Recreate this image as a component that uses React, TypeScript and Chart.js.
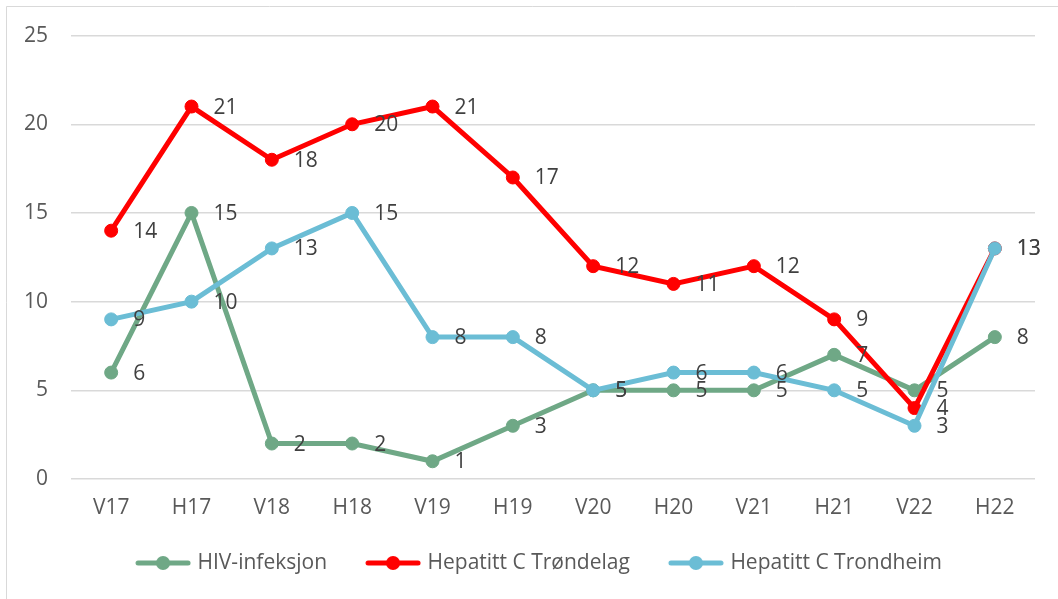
import React, { useEffect, useRef } from "react";
import { Chart, registerables } from "chart.js";

Chart.register(...registerables);

const categories = ["V17", "H17", "V18", "H18", "V19", "H19", "V20", "H20", "V21", "H21", "V22", "H22"];
const hivValues = [6, 15, 2, 2, 1, 3, 5, 5, 5, 7, 5, 8];
const trondelagValues = [14, 21, 18, 20, 21, 17, 12, 11, 12, 9, 4, 13];
const trondheimValues = [9, 10, 13, 15, 8, 8, 5, 6, 6, 5, 3, 13];
const seriesNames = ["HIV-infeksjon", "Hepatitt C Trøndelag", "Hepatitt C Trondheim"];
const seriesColors = ["#6FA886", "#FF0000", "#6BBDD5"];
const yTicks = [0, 5, 10, 15, 20, 25];

const FONT = "'Open Sans', 'Noto Sans', sans-serif";
const FS = 21;
const LEGEND_GAP = 20;
const LEGEND_BOX = 48 + LEGEND_GAP;

function makeLegendMarker(color: string): HTMLCanvasElement {
  const c = document.createElement("canvas");
  c.width = LEGEND_BOX + 8;
  c.height = 16;
  const ctx = c.getContext("2d")!;
  const x0 = c.width - 56;
  ctx.strokeStyle = color;
  ctx.lineWidth = 5;
  ctx.lineCap = "round";
  ctx.beginPath();
  ctx.moveTo(x0 + 3, 8);
  ctx.lineTo(x0 + 53, 8);
  ctx.stroke();
  ctx.fillStyle = color;
  ctx.beginPath();
  ctx.arc(x0 + 28, 8, 7, 0, Math.PI * 2);
  ctx.fill();
  return c;
}

const framePlugin = {
  id: "frame",
  beforeDraw(chart: any) {
    const ctx = chart.ctx;
    ctx.save();
    ctx.fillStyle = "#ffffff";
    ctx.fillRect(0, 0, chart.width, chart.height);
    ctx.strokeStyle = "#d9d9d9";
    ctx.lineWidth = 1;
    ctx.beginPath();
    ctx.moveTo(6.5, chart.height);
    ctx.lineTo(6.5, 6.5);
    ctx.lineTo(chart.width, 6.5);
    ctx.stroke();
    ctx.restore();
  },
};

const legendShiftPlugin = {
  id: "legendShift",
  afterLayout(chart: any) {
    const l = chart.legend;
    if (l) {
      l.left += 13;
      l.right += 13;
    }
  },
};

const dataLabelPlugin = {
  id: "dataLabels",
  afterDatasetsDraw(chart: any) {
    const ctx = chart.ctx;
    ctx.save();
    ctx.font = `${FS}px ${FONT}`;
    ctx.fillStyle = "#404040";
    ctx.textAlign = "left";
    ctx.textBaseline = "middle";
    chart.data.datasets.forEach((ds: any, i: number) => {
      const meta = chart.getDatasetMeta(i);
      meta.data.forEach((pt: any, j: number) => {
        ctx.fillText(String(ds.data[j]), pt.x + 22, pt.y + 1);
      });
    });
    ctx.restore();
  },
};

export default function App() {
  const canvasRef = useRef<HTMLCanvasElement | null>(null);

  useEffect(() => {
    if (!canvasRef.current) return;
    const seriesData = [hivValues, trondelagValues, trondheimValues];
    const orders = [2, 1, 0];
    const chart = new Chart(canvasRef.current, {
      type: "line",
      data: {
        labels: categories,
        datasets: seriesData.map((d, i) => ({
          label: seriesNames[i],
          data: d,
          borderColor: seriesColors[i],
          backgroundColor: seriesColors[i],
          pointBackgroundColor: seriesColors[i],
          pointBorderColor: seriesColors[i],
          borderWidth: 5,
          pointRadius: 6.5,
          pointBorderWidth: 1,
          pointStyle: "circle",
          tension: 0,
          fill: false,
          order: orders[i],
        })),
      },
      options: {
        animation: false,
        responsive: false,
        devicePixelRatio: 1,
        layout: { padding: { top: 35, right: 23, bottom: 15.5, left: 0 } },
        plugins: {
          tooltip: { enabled: false },
          legend: {
            position: "bottom",
            labels: {
              usePointStyle: true,
              pointStyleWidth: LEGEND_BOX,
              padding: 22,
              color: "#595959",
              font: { family: FONT, size: FS },
              generateLabels(chart: any) {
                return chart.data.datasets.map((ds: any, i: number) => ({
                  text: ds.label,
                  fillStyle: ds.borderColor,
                  strokeStyle: ds.borderColor,
                  lineWidth: 0,
                  pointStyle: makeLegendMarker(ds.borderColor),
                  hidden: false,
                  datasetIndex: i,
                  fontColor: "#595959",
                }));
              },
            },
          },
        },
        scales: {
          x: {
            offset: true,
            grid: { display: false, drawTicks: false },
            border: { display: false },
            ticks: { color: "#595959", font: { family: FONT, size: FS }, padding: 16.5, maxRotation: 0 },
            afterFit(scale: any) {
              scale.height = 51.5;
            },
          },
          y: {
            min: 0,
            max: 25,
            afterBuildTicks(scale: any) {
              scale.ticks = yTicks.map((v) => ({ value: v }));
            },
            grid: { color: "#d9d9d9", lineWidth: 1.5, drawTicks: false },
            border: { display: false },
            ticks: { color: "#595959", font: { family: FONT, size: FS }, padding: 23 },
            afterFit(scale: any) {
              scale.width = 71;
            },
          },
        },
      },
      plugins: [framePlugin, legendShiftPlugin, dataLabelPlugin],
    });
    return () => chart.destroy();
  }, []);

  return (
    <div style={{ position: "fixed", left: 0, top: 0, width: 1058, height: 599, background: "#fff" }}>
      <canvas ref={canvasRef} width={1058} height={599} style={{ display: "block" }} />
    </div>
  );
}
